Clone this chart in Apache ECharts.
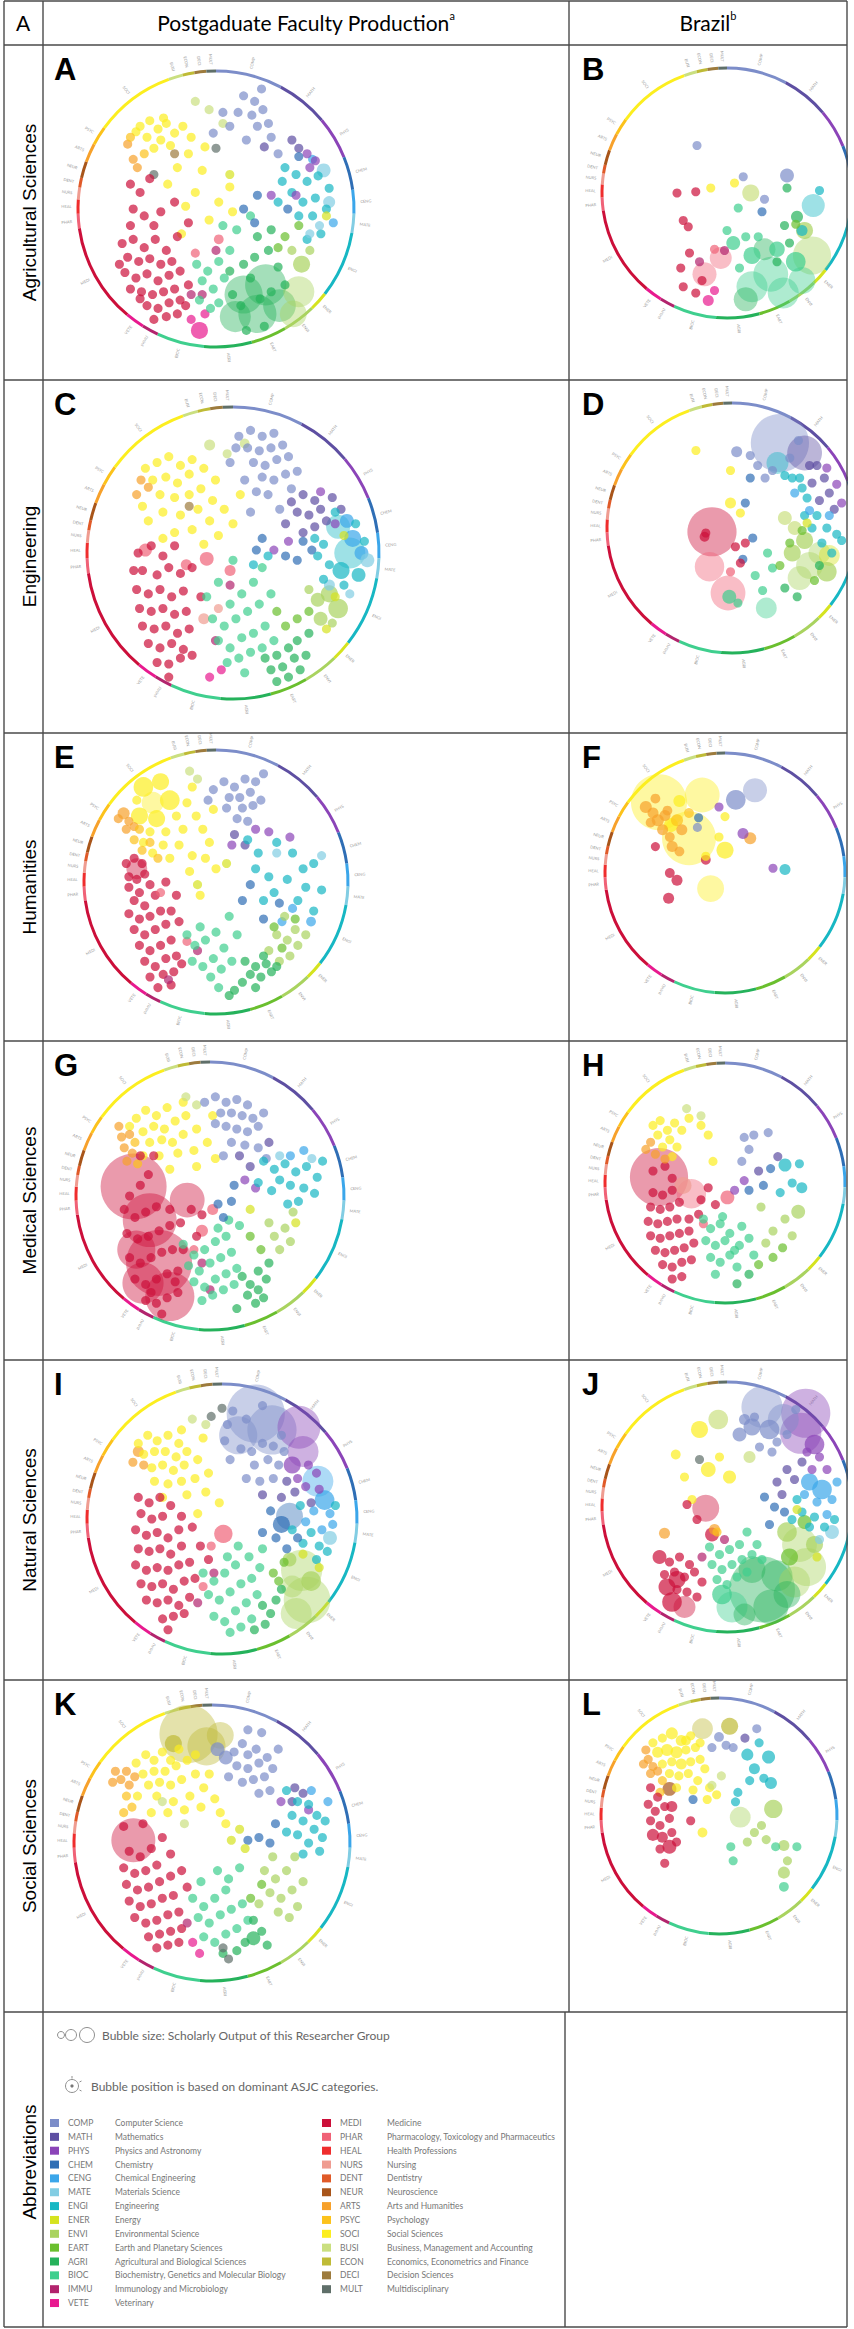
<!DOCTYPE html>
<html>
<head>
<meta charset="utf-8">
<title>Researcher group bubble maps</title>
<script src="https://cdn.jsdelivr.net/npm/echarts@6.0.0/dist/echarts.min.js"></script>
<style>
  html, body { margin: 0; padding: 0; background: #fff; }
  #chart { width: 854px; height: 2329px; }
</style>
</head>
<body>
<div id="chart"></div>
<script>
// ASJC categories, in the order they sit around the wheel (clockwise from 12 o'clock)
const categories = ["COMP", "MATH", "PHYS", "CHEM", "CENG", "MATE", "ENGI", "ENER", "ENVI", "EART",
  "AGRI", "BIOC", "IMMU", "VETE", "MEDI", "PHAR", "HEAL", "NURS", "DENT", "NEUR", "ARTS", "PSYC",
  "SOCI", "BUSI", "ECON", "DECI", "MULT"];
const categoryNames = ["Computer Science", "Mathematics", "Physics and Astronomy", "Chemistry",
  "Chemical Engineering", "Materials Science", "Engineering", "Energy", "Environmental Science",
  "Earth and Planetary Sciences", "Agricultural and Biological Sciences",
  "Biochemistry, Genetics and Molecular Biology", "Immunology and Microbiology", "Veterinary",
  "Medicine", "Pharmacology, Toxicology and Pharmaceutics", "Health Professions", "Nursing",
  "Dentistry", "Neuroscience", "Arts and Humanities", "Psychology", "Social Sciences",
  "Business, Management and Accounting", "Economics, Econometrics and Finance",
  "Decision Sciences", "Multidisciplinary"];
// share of the wheel rim taken by each category (degrees)
const ringSpan = [28, 22, 18, 14, 10, 8, 28, 8, 14, 15, 20, 20, 7, 8, 42, 6, 6, 5, 4, 7, 8, 8, 34, 6, 5, 5, 4];

const rowLabels = ["Agricultural Sciences", "Engineering", "Humanities", "Medical Sciences",
  "Natural Sciences", "Social Sciences"];
const panelLetters = ["A", "B", "C", "D", "E", "F", "G", "H", "I", "J", "K", "L"];

// bubbles: [x, y, output] with x/y in % of wheel radius; output defaults to 17
const bubblesA = [
  ["SOCI", [[-55,60],[-48,64],[-42,58],[-36,62],[-30,55],[-50,52],[-40,50],[-24,60],[-45,44],[-33,46],[-20,40],[-58,56],[-28,30],[-10,28],[-35,18],[-15,12],[2,5],[-5,-8],[10,16],[-22,2],[-38,66],[-18,52],[-8,45],[-25,-18],[12,-2]]],
  ["ARTS", [[-64,47],[-60,36],[-57,30]]],
  ["PSYC", [[-52,40],[-62,52]]],
  ["BUSI", [[-15,78],[-5,72],[5,62]]],
  ["MULT", [[-45,25],[0,44]]],
  ["DECI", [[-30,40]]],
  ["MEDI", [[-62,18],[-55,12],[-48,22],[-60,0],[-52,-5],[-40,-2],[-62,-12],[-30,5],[-45,-12],[-20,-10],[-68,-25],[-60,-22],[-52,-28],[-44,-22],[-36,-30],[-64,-35],[-56,-38],[-48,-36],[-40,-40],[-32,-38],[-66,-46],[-58,-50],[-50,-47],[-42,-52],[-34,-48],[-26,-45],[-62,-58],[-54,-60],[-46,-62],[-38,-60],[-30,-58],[-50,-70],[-42,-72],[-34,-68],[-26,-66],[-20,-55],[-36,-78],[-28,-76],[-22,-70],[-70,-40],[-55,-65],[-45,-80],[-28,-20]]],
  ["PHAR", [[2,-22,20],[-15,-32]]],
  ["IMMU", [[-10,-62],[0,-30],[-18,-62]]],
  ["VETE", [[-18,-80],[-12,-88,60],[-8,-76]]],
  ["BIOC", [[-14,-40],[-6,-45],[2,-38],[-10,-52],[-2,-58],[6,-50],[-12,-66],[-4,-72],[10,-30],[15,-15],[5,-12],[25,-5],[2,-68]]],
  ["AGRI", [[20,-62,300],[36,-55,350],[30,-76,300],[46,-70,220],[14,-78,200],[10,-45],[20,-40],[28,-35],[38,-30],[45,-42],[12,-62],[25,-50],[40,-60],[50,-55],[35,-85],[22,-88],[30,-20],[40,-15],[18,-70],[32,-65]]],
  ["ENVI", [[60,-60,200],[56,-76,150],[62,-40,60],[55,-30],[68,-30]]],
  ["EART", [[50,-20],[60,-12],[45,-28]]],
  ["ENGI", [[50,30],[58,25],[66,20],[74,24],[82,15],[55,12],[63,5],[72,8],[80,0],[48,20],[70,-5],[60,-5],[45,5],[76,-18],[66,-22]]],
  ["MATE", [[78,28,40],[82,5,30],[75,-12],[68,-18]]],
  ["CENG", [[85,-10],[70,36]]],
  ["COMP", [[20,82],[28,78],[26,68],[34,72],[30,60],[38,62],[40,52],[16,70],[10,60],[5,70],[45,40],[22,50],[33,87],[-2,55]]],
  ["MATH", [[35,45],[55,50],[60,44]]],
  ["PHYS", [[66,40],[72,35],[68,30],[58,10],[40,10]]],
  ["CHEM", [[52,0],[60,38],[30,10],[28,-10],[20,0]]],
  ["ENER", [[80,-5],[10,25]]]
];
const bubblesB = [
  ["COMP", [[-24,38],[48,14,40],[13,13],[30,-5]]],
  ["SOCI", [[6,8],[-13,4]]],
  ["BUSI", [[19,0,60]]],
  ["MEDI", [[-40,0],[-25,1],[-35,-22],[-31,-27],[-37,-60],[-30,-48],[-20,-70],[-35,-75],[-25,-80]]],
  ["ENGI", [[69,-10,110],[74,2],[60,-30,25]]],
  ["CHEM", [[28,-15]]],
  ["BIOC", [[9,-12],[0,-30],[5,-40,40],[15,-35],[20,-50,60],[40,-45,50],[55,-55,80],[35,-65,250],[20,-75,200],[45,-80,200],[60,-70,150],[10,-60],[25,-35]]],
  ["AGRI", [[48,4],[56,-19,30],[46,-26],[30,-45,100],[50,-40],[15,-85,120],[40,-55]]],
  ["ENVI", [[68,-50,300],[62,-30,60]]],
  ["EART", [[55,-25]]],
  ["PHAR", [[-18,-65,120],[-5,-52,100],[-10,-45]]],
  ["VETE", [[-15,-86,25],[-10,-78]]],
  ["IMMU", [[-2,-46],[-22,-55]]]
];
const bubblesC = [
  ["SOCI", [[-60,58],[-52,62],[-44,66],[-36,60],[-28,64],[-55,50],[-46,52],[-38,48],[-30,54],[-20,58],[-50,40],[-40,38],[-30,40],[-22,44],[-12,50],[-48,28],[-36,26],[-24,30],[-14,36],[-58,22],[-40,14],[-28,16],[-16,22],[-6,30],[-10,12],[0,20],[-20,6],[-48,10],[5,40],[-62,32]]],
  ["ARTS", [[-63,50],[-58,45],[-66,40]]],
  ["BUSI", [[-16,74,25],[8,75,20],[-4,68]]],
  ["DECI", [[-30,32]]],
  ["MEDI", [[-65,0],[-56,5],[-48,-2],[-40,5],[-62,-12],[-52,-15],[-44,-10],[-36,-14],[-66,-25],[-58,-28],[-50,-25],[-42,-30],[-34,-26],[-64,-38],[-56,-40],[-48,-38],[-40,-42],[-32,-40],[-62,-50],[-54,-52],[-46,-50],[-38,-55],[-30,-52],[-58,-62],[-50,-65],[-42,-62],[-34,-66],[-52,-75],[-44,-76],[-36,-72],[-28,-70],[-44,-85],[-28,-10],[-22,-30],[-68,-12]]],
  ["PHAR", [[-32,-8,25],[-18,-4,40],[-60,2,35],[-2,-12,25]]],
  ["NURS", [[-10,-38],[-20,-45,25]]],
  ["VETE", [[-16,-85],[-8,-80]]],
  ["IMMU", [[-2,-22],[-12,-60]]],
  ["BIOC", [[-18,-30],[-10,-20],[-2,-35],[6,-28],[14,-20],[-14,-45],[-6,-50],[2,-45],[10,-40],[18,-35],[-10,-60],[-2,-65],[6,-58],[14,-55],[22,-50],[-4,-75],[4,-72],[12,-68],[20,-65],[28,-60],[8,-82],[0,-5],[20,-10],[26,-28]]],
  ["AGRI", [[22,-72],[30,-70],[38,-65],[26,-80],[34,-78],[42,-72],[30,-88],[38,-85],[46,-80],[50,-70],[44,-60],[52,-55]]],
  ["EART", [[36,-50],[44,-45],[52,-40],[30,-40]]],
  ["ENVI", [[58,-32,40],[66,-28,60],[72,-38,80],[60,-45,40],[52,-25],[68,-48]]],
  ["ENER", [[76,12],[70,-30],[64,-52]]],
  ["COMP", [[4,80],[12,84],[20,80],[28,82],[10,72],[18,70],[26,72],[34,74],[14,62],[22,60],[30,64],[38,66],[20,52],[28,50],[36,54],[44,56],[8,50],[-2,62],[16,42],[24,40],[40,44],[32,30],[12,28],[2,72]]],
  ["MATH", [[40,35],[48,40],[56,36],[44,28],[52,26],[60,30],[64,22],[56,18],[48,14],[68,38],[74,30],[36,20]]],
  ["PHYS", [[60,42],[70,20],[38,8],[28,2]]],
  ["CHEM", [[48,8],[54,2],[44,-5],[36,-2],[20,10],[16,2]]],
  ["CENG", [[82,10,60],[88,0,40],[78,22,40]]],
  ["ENGI", [[72,18,120],[80,0,200],[74,-12,60],[86,-15,40],[62,6],[66,-8],[58,-2],[62,-18],[76,-22],[84,20],[90,8],[70,28],[56,10],[24,-2],[14,-8]]],
  ["MATE", [[92,-5,40],[66,-22,25],[80,-28]]]
];
const bubblesD = [
  ["COMP", [[40,68,700],[5,61,25],[16,58],[22,50],[28,40],[34,46],[48,56],[55,70]]],
  ["MATH", [[60,60,250],[70,50],[76,40],[66,36],[80,28],[72,22],[84,15],[64,50]]],
  ["PHYS", [[78,48],[86,35],[90,20]]],
  ["ENGI", [[38,52,100],[50,40],[58,32],[62,24],[70,10],[78,0],[86,-5],[66,0],[74,-12],[82,-20],[60,10],[90,-10],[56,40],[44,42]]],
  ["CENG", [[52,28],[64,14],[80,10]]],
  ["CHEM", [[16,40],[12,20],[18,-8],[10,-25]]],
  ["SOCI", [[-28,62],[0,46],[0,20,25],[8,12]]],
  ["MEDI", [[-15,-3,500],[-21,-7,20],[-20,-4],[8,-28],[4,-15],[12,-12]]],
  ["PHAR", [[-17,-31,180],[-2,-52,250],[0,-35]]],
  ["BIOC", [[-1,-55,40],[29,-64,90],[20,-38],[26,-50],[6,-60],[30,-20],[34,-32]]],
  ["ENVI", [[64,-30,150],[56,-40,120],[72,-20,100],[60,-10,60],[50,-20,60],[78,-35,80]]],
  ["EART", [[58,-2],[68,-42],[48,-12],[40,-30]]],
  ["BUSI", [[52,0,40],[44,8,40]]],
  ["ENER", [[80,-22,90],[62,4]]],
  ["AGRI", [[44,-48],[54,-55],[72,-30]]]
];
const bubblesE = [
  ["SOCI", [[-55,72,80],[-42,76,60],[-48,60,100],[-35,62,80],[-58,50,60],[-45,48,60],[-30,50],[-22,60],[-18,72],[-25,40],[-38,38],[-50,38],[-15,50],[-10,40],[-5,30],[-28,28],[-40,28],[-55,30],[-18,20],[-8,18],[0,10],[-60,62],[-20,8],[-35,18],[-48,22],[-12,-10],[-2,55]]],
  ["ARTS", [[-70,52,30],[-66,46],[-74,48],[-62,42],[-68,40]]],
  ["PSYC", [[-58,40],[-50,30],[-56,24],[-44,18],[-62,32]]],
  ["BUSI", [[-14,78],[-20,84]]],
  ["MEDI", [[-60,10,90],[-66,4],[-60,2],[-54,6],[-66,-4],[-58,-8],[-50,-2],[-68,14],[-62,18],[-56,14],[-62,-14],[-54,-18],[-46,-10],[-66,-24],[-58,-28],[-50,-26],[-42,-22],[-62,-36],[-54,-40],[-46,-36],[-38,-32],[-58,-48],[-50,-52],[-42,-48],[-34,-44],[-54,-60],[-46,-64],[-38,-58],[-30,-56],[-50,-72],[-40,-70],[-32,-68],[-26,-62],[-44,-80],[-34,-78],[-30,-10],[-38,0],[-34,-22],[-28,-30]]],
  ["PHAR", [[-42,-8],[-22,-45]]],
  ["IMMU", [[-36,-74],[-14,-52]]],
  ["COMP", [[-2,70],[6,76],[14,72],[22,78],[10,64],[18,64],[26,68],[30,76],[20,56],[28,58],[34,62],[8,56],[16,48],[24,46],[-6,62],[36,82]]],
  ["MATH", [[14,36],[22,28]]],
  ["PHYS", [[30,40],[40,38],[56,34],[12,28]]],
  ["ENGI", [[24,32],[32,22],[46,30],[58,22],[66,10],[74,14],[40,4],[54,2],[68,-4],[80,-6],[30,10],[62,-14],[74,-22],[44,-8],[36,-14]]],
  ["CENG", [[58,-20],[72,-30,20],[50,-30]]],
  ["MATE", [[46,22],[80,20]]],
  ["CHEM", [[26,-2],[36,-28],[48,-16],[20,-14]]],
  ["ENVI", [[52,-26],[60,-36],[54,-44],[46,-40],[62,-48],[40,-52],[56,-56],[68,-40],[48,-60]]],
  ["EART", [[44,-34],[50,-50],[60,-28]]],
  ["AGRI", [[22,-60],[30,-64],[38,-62],[26,-70],[34,-72],[42,-68],[30,-80],[20,-76],[10,-86],[14,-82],[36,-56],[46,-64]]],
  ["BIOC", [[-22,-40],[-16,-48],[-8,-44],[0,-38],[-18,-60],[-10,-64],[-2,-58],[6,-50],[-4,-72],[4,-66],[12,-60],[2,-80],[-12,-34],[10,-26],[16,-40]]],
  ["ENER", [[8,14],[-14,-2]]]
];
const bubblesF = [
  ["SOCI", [[-55,59,650],[-19,65,250],[-30,29,600],[-12,-13,150],[0,19,60],[0,47],[-5,30],[-16,14],[-45,40,40],[-38,60,30]]],
  ["ARTS", [[-66,55,30],[-60,50,25],[-56,44,30],[-62,42,20],[-52,36,25],[-46,30,20],[-44,22,25],[-38,18,20],[-58,62,20],[-48,52,20],[21,29,30],[-36,36,25],[-50,48,25]]],
  ["PSYC", [[-40,44,30],[-30,50,20]]],
  ["COMP", [[9,61,80],[25,69,120],[-23,38]]],
  ["PHYS", [[-5,55],[15,33,25],[40,4]]],
  ["ENGI", [[50,3,25]]],
  ["MEDI", [[-58,22],[-46,0,20],[-40,-6,25],[-47,-21,25],[-16,11,20]]],
  ["CHEM", [[-22,46]]]
];
const bubblesG = [
  ["SOCI", [[-55,58],[-48,64],[-40,60],[-32,66],[-50,48],[-42,52],[-34,50],[-26,56],[-18,60],[-45,40],[-36,42],[-28,40],[-20,46],[-10,50],[-38,30],[-24,32],[-12,34],[-2,40],[-50,30],[-30,20],[-10,22],[4,28],[-60,52],[2,60],[-20,70]]],
  ["ARTS", [[-68,52],[-66,44],[-60,46],[-64,36],[-58,32],[-62,26]]],
  ["PSYC", [[-56,40],[-54,24]]],
  ["BUSI", [[-18,74],[-10,68]]],
  ["COMP", [[-4,70],[4,74],[12,70],[20,72],[28,68],[8,62],[16,62],[24,60],[32,58],[12,52],[20,50],[28,48],[36,52],[4,54],[40,62],[16,40],[26,38],[36,36],[42,28],[10,30]]],
  ["MATH", [[22,30],[30,22],[44,40]]],
  ["PHYS", [[26,12],[34,6]]],
  ["MEDI", [[-57,7,900],[-17,-3,250],[-45,-18,600],[-38,-50,900],[-30,-75,500],[-55,-40,300],[-50,-65,350],[-60,0],[-52,8],[-46,16],[-64,-10],[-56,-16],[-48,-12],[-40,-8],[-62,-28],[-54,-32],[-46,-30],[-38,-26],[-30,-22],[-60,-46],[-52,-50],[-44,-46],[-36,-42],[-28,-40],[-56,-62],[-48,-66],[-40,-62],[-32,-58],[-24,-56],[-48,-78],[-40,-80],[-32,-76],[-24,-72],[-36,-88],[-44,-72],[-20,-40],[-22,-20],[-14,-10],[-6,-14],[-10,-30],[-30,-10],[-26,-64],[-52,30],[-42,30]]],
  ["PHAR", [[2,-10,25],[-6,-26,30],[-12,-40]]],
  ["IMMU", [[-6,-50],[0,-70]]],
  ["BIOC", [[-20,-36],[-12,-44],[-4,-40],[4,-34],[12,-30],[-16,-52],[-8,-56],[0,-50],[8,-46],[16,-42],[-12,-64],[-4,-68],[4,-62],[12,-58],[20,-54],[-6,-78],[2,-74],[10,-70],[18,-66],[6,-24],[14,-18],[22,-22]]],
  ["AGRI", [[24,-60],[30,-66],[36,-56],[28,-74],[36,-70],[42,-62],[34,-80],[40,-76],[20,-84],[44,-50]]],
  ["ENVI", [[48,-30],[56,-24],[52,-40],[60,-34],[44,-20],[62,-12]]],
  ["EART", [[38,-40],[30,-30]]],
  ["CHEM", [[10,-16],[16,-4],[6,-6],[18,8]]],
  ["ENGI", [[40,26],[48,20],[56,24],[64,18],[72,22],[80,14],[52,12],[60,8],[70,6],[78,2],[46,4],[66,-4],[58,-6],[36,10],[84,26]]],
  ["CENG", [[60,30],[70,34]]],
  ["MATE", [[76,28],[52,30]]],
  ["ENER", [[30,-10],[64,-20]]]
];
const bubblesH = [
  ["MEDI", [[-55,5,700],[-60,-8],[-52,-10],[-44,-6],[-62,-20],[-54,-22],[-46,-20],[-38,-16],[-64,-32],[-56,-34],[-48,-32],[-40,-30],[-62,-44],[-54,-46],[-46,-44],[-38,-42],[-30,-40],[-58,-56],[-50,-58],[-42,-56],[-34,-54],[-52,-68],[-44,-70],[-36,-66],[-28,-64],[-44,-80],[-36,-78],[-30,-30],[-26,-50],[-60,10],[-50,14],[-44,4],[-20,-14],[-22,-26],[-14,-4],[-8,-18]]],
  ["PHAR", [[-28,-9,180],[2,-12,40],[-18,-34]]],
  ["NURS", [[-35,-2,60]]],
  ["SOCI", [[-60,48],[-54,52],[-48,44],[-42,50],[-56,40],[-46,36],[-52,30],[-40,30],[-44,22],[-36,44],[-30,54],[-20,48],[-14,40],[-10,18]]],
  ["ARTS", [[-62,34],[-58,24],[-66,28],[-50,20]]],
  ["BUSI", [[-32,62],[-20,56]]],
  ["BIOC", [[-18,-30],[-12,-38],[-4,-34],[4,-42],[-16,-48],[-8,-52],[0,-48],[8,-56],[-12,-62],[-4,-66],[4,-60],[12,-52],[-8,-76],[14,-36],[20,-46],[24,-60],[10,-70],[-2,-28]]],
  ["COMP", [[16,38],[24,40],[20,28],[36,42],[14,18]]],
  ["MATH", [[28,10],[44,22]]],
  ["CHEM", [[38,12],[32,-2],[20,-6]]],
  ["ENGI", [[50,15,35],[62,16],[56,0],[46,-8],[64,-4,25]]],
  ["ENVI", [[61,-24,40],[50,-30],[40,-40],[56,-44],[30,-20],[34,-50]]],
  ["EART", [[48,-54],[28,-68],[40,-62]]],
  ["AGRI", [[20,-76],[10,-84]]],
  ["PHYS", [[16,2],[8,-6]]]
];
const bubblesI = [
  ["COMP", [[25,78,700],[37,66,500],[12,62,300],[18,74],[30,84],[8,80],[4,70],[14,52],[22,50],[30,56],[38,54],[24,40],[34,44],[42,40],[46,50],[6,44],[18,30],[28,28],[38,30],[44,62],[2,58]]],
  ["PHYS", [[57,68,380],[60,50,200],[52,40,60],[64,40],[70,34],[56,30],[72,22],[62,24]]],
  ["MATH", [[48,28],[54,20],[44,16],[66,12],[30,18]]],
  ["CENG", [[71,28,200],[76,14,80],[80,4],[68,6],[82,-4],[74,-8],[62,-2]]],
  ["ENGI", [[58,10],[66,-10],[72,-20],[60,-18],[52,-8],[78,-24],[84,10],[70,-30]]],
  ["CHEM", [[50,2,150],[44,-4,60],[36,6],[40,-14],[30,-10],[56,-14],[48,-22]]],
  ["SOCI", [[-62,56],[-55,62],[-48,58],[-40,62],[-32,56],[-58,48],[-50,50],[-42,50],[-34,46],[-26,50],[-52,38],[-44,40],[-36,36],[-28,40],[-18,44],[-50,28],[-40,26],[-30,28],[-20,30],[-10,34],[-44,16],[-26,18],[-12,20],[-2,12],[-18,4],[-30,66],[-14,60]]],
  ["ARTS", [[-62,50,25],[-66,42],[-58,40]]],
  ["BUSI", [[-22,74],[-12,70]]],
  ["MULT", [[-8,76],[0,82]]],
  ["MEDI", [[-62,16],[-54,12],[-46,16],[-38,10],[-60,4],[-52,0],[-44,2],[-30,2],[-64,-8],[-56,-12],[-48,-10],[-40,-14],[-32,-8],[-62,-22],[-54,-24],[-46,-22],[-38,-26],[-30,-20],[-64,-34],[-56,-38],[-48,-36],[-40,-38],[-32,-34],[-24,-32],[-60,-48],[-52,-50],[-44,-48],[-36,-52],[-28,-46],[-56,-60],[-48,-62],[-40,-60],[-32,-64],[-24,-58],[-44,-74],[-36,-72],[-28,-70],[-40,-82],[-20,-44],[-16,-20],[-22,-6],[-10,-30]]],
  ["PHAR", [[1,-11,70],[-8,-20],[-14,-50]]],
  ["IMMU", [[-18,-62],[-6,-40]]],
  ["BIOC", [[-14,-40],[-6,-46],[2,-40],[10,-34],[-10,-56],[-2,-60],[6,-54],[14,-48],[22,-44],[-6,-72],[2,-76],[10,-68],[18,-62],[26,-56],[6,-84],[14,-80],[22,-74],[12,-20],[20,-28],[28,-36],[4,-28],[30,-22]]],
  ["AGRI", [[30,-64],[36,-70],[32,-78],[40,-60],[24,-82],[44,-52]]],
  ["EART", [[38,-40],[46,-32],[42,-46]]],
  ["ENVI", [[59,-38,350],[63,-60,450],[55,-70,200],[52,-50,100],[66,-46,80],[50,-30,40]]],
  ["ENER", [[72,-36],[60,-26]]],
  ["MATE", [[80,-14,40]]]
];
const bubblesJ = [
  ["COMP", [[28,80,350],[45,70,200],[34,62,80],[20,64,60],[10,58,40],[40,52],[48,58],[26,48],[36,44],[22,72],[55,78],[14,70,25]]],
  ["PHYS", [[63,75,500],[59,59,350],[70,50,80],[74,40],[64,44],[80,30],[68,30]]],
  ["MATH", [[48,30],[40,20],[54,22],[44,10],[60,36]]],
  ["CENG", [[66,20,60],[76,14,80],[84,6],[72,4],[80,-6],[62,10],[88,20]]],
  ["ENGI", [[70,-8],[60,-4],[78,-16],[66,-16],[86,-10],[56,6],[52,-10]]],
  ["MATE", [[84,-20,40],[74,-26]]],
  ["CHEM", [[38,0],[30,8],[46,-4],[34,-14]]],
  ["SOCI", [[-22,62,60],[-41,42,20],[-15,30,45],[2,24,35],[-34,24],[-28,6],[-6,40]]],
  ["BUSI", [[-7,70,80],[18,40,30]]],
  ["MULT", [[-22,38]]],
  ["MEDI", [[-17,-1,150],[-32,2],[-24,-10],[-12,-22,40],[-46,-44],[-38,-40],[-30,-46],[-50,-54],[-42,-52],[-34,-56],[-26,-52],[-48,-64,60],[-40,-66],[-32,-68],[-44,-76,80],[-34,-80,100],[-24,-72],[-54,-40,40],[-20,-60],[-40,-58,60]]],
  ["ARTS", [[-50,-21,25],[-10,-18,25]]],
  ["PSYC", [[-8,-20]]],
  ["BIOC", [[-14,-32],[-6,-38],[2,-34],[10,-30],[-12,-46],[-4,-50],[4,-46],[12,-42],[20,-38],[-8,-58],[0,-62],[8,-56],[16,-52],[4,-80,200],[-4,-70,80],[24,-30],[16,-20],[28,-42]]],
  ["AGRI", [[28,-66,900],[20,-50,150],[40,-55,200],[35,-80,250],[14,-86,100],[48,-70,150]]],
  ["ENVI", [[58,-30,250],[64,-48,300],[54,-60,200],[48,-20,80],[70,-30,60]]],
  ["EART", [[50,-40,60],[62,-12,40]]],
  ["ENER", [[56,-2],[72,-40]]],
  ["IMMU", [[-20,-40],[-2,-26]]]
];
const bubblesK = [
  ["ECON", [[-17,79,700],[-4,70,300],[6,78,150],[-28,72,60]]],
  ["COMP", [[4,68,40],[10,62,40],[16,66],[22,72],[26,64],[32,68],[18,56],[26,54],[34,58],[40,62],[22,44],[30,46],[38,48],[44,54],[12,48],[42,38],[34,36],[48,68],[26,82],[36,80]]],
  ["MATH", [[60,40],[66,36],[58,30]]],
  ["PHYS", [[50,30],[70,24]]],
  ["SOCI", [[-55,58],[-48,64],[-42,60],[-36,66],[-30,60],[-50,50],[-42,52],[-34,52],[-26,56],[-18,60],[-46,42],[-38,44],[-30,42],[-22,46],[-12,50],[-54,34],[-40,34],[-28,30],[-16,34],[-6,40],[-44,22],[-32,22],[-20,24],[-8,26],[2,32],[-24,68],[-12,64],[-2,50],[6,22],[10,14]]],
  ["ARTS", [[-70,52],[-66,46],[-62,52],[-60,42],[-72,44],[-56,48]]],
  ["PSYC", [[-62,34],[-58,26],[-64,22]]],
  ["BUSI", [[-36,30],[-20,14]]],
  ["MEDI", [[-57,2,400],[-64,12],[-60,-6],[-52,-10],[-44,-4],[-64,-18],[-56,-22],[-48,-20],[-40,-16],[-62,-30],[-54,-34],[-46,-32],[-38,-28],[-30,-24],[-60,-42],[-52,-46],[-44,-44],[-36,-40],[-28,-38],[-56,-54],[-48,-58],[-40,-56],[-32,-52],[-24,-50],[-46,-68],[-38,-66],[-30,-64],[-22,-62],[-40,-76],[-32,-74],[-24,-72],[-36,4],[-30,-8],[-22,-20],[-18,-32],[-50,14]]],
  ["VETE", [[-9,-80],[-14,-72]]],
  ["IMMU", [[-18,-58]]],
  ["BIOC", [[-14,-40],[-6,-46],[2,-40],[10,-34],[-10,-54],[-2,-58],[6,-52],[14,-48],[22,-44],[-6,-68],[2,-72],[10,-66],[18,-62],[26,-56],[4,-20],[12,-26],[20,-18],[-8,-28]]],
  ["AGRI", [[30,-69,40],[24,-72],[36,-64],[30,-56],[40,-74],[18,-78],[8,-80]]],
  ["MULT", [[8,-76],[12,-84]]],
  ["ENVI", [[38,-20],[46,-26],[54,-20],[42,-36],[50,-40],[58,-34],[62,-46],[48,-50],[56,-54],[34,-44],[66,-28],[44,-10],[60,-10]]],
  ["EART", [[36,-30],[28,-40]]],
  ["ENGI", [[54,38],[62,30],[70,28],[76,20],[58,20],[66,16],[74,10],[80,4],[62,6],[70,0],[78,-6],[54,8],[66,-8],[82,16]]],
  ["CENG", [[72,38],[84,30]]],
  ["CHEM", [[34,4],[42,0],[26,2],[46,14]]],
  ["ENER", [[20,10],[24,-4],[14,2]]]
];
const bubblesL = [
  ["ECON", [[-14,74,90],[9,76,60]]],
  ["COMP", [[0,67,20],[6,60],[12,58],[32,74],[-6,58]]],
  ["SOCI", [[-56,62],[-48,66],[-40,70,30],[-32,64,25],[-24,68],[-52,54,25],[-44,56,30],[-36,54,30],[-28,56],[-20,58],[-48,44],[-40,46],[-32,44,25],[-24,46],[-16,48],[-42,36],[-34,34],[-26,36],[-18,30],[-12,40],[-36,24],[-22,22],[-8,24],[-10,14],[-14,-14,20],[-2,18],[-28,64,20],[-16,62]]],
  ["ARTS", [[-62,56],[-60,48],[-56,42],[-58,36],[-52,38],[-64,44]]],
  ["NEUR", [[-42,23,40]]],
  ["PSYC", [[-48,30],[-50,20]]],
  ["BUSI", [[-6,26],[2,34]]],
  ["MEDI", [[-58,24],[-52,16],[-60,10],[-54,4],[-46,8],[-58,-4],[-50,-8],[-42,-2],[-56,-16,30],[-48,-18,25],[-40,-14],[-50,-28],[-42,-26,40],[-46,-40],[-36,-22],[-24,-4],[-40,8,25]]],
  ["ENGI", [[24,52,30],[30,40,25],[42,50,35],[38,32],[26,30],[44,28,30],[34,62],[16,20],[14,12]]],
  ["MATH", [[22,66]]],
  ["ENVI", [[18,-1,90],[46,6,70],[36,-8],[30,-14],[40,-20],[24,-22],[55,-48,30],[55,-25,25],[58,-38]]],
  ["BIOC", [[10,-26],[12,-38],[55,-60,20],[66,-26],[48,-26]]],
  ["CHEM", [[-22,14]]]
];
const panelBubbles = [bubblesA, bubblesB, bubblesC, bubblesD, bubblesE, bubblesF,
  bubblesG, bubblesH, bubblesI, bubblesJ, bubblesK, bubblesL];

// ---- styles & layout (kept apart from the data) ----
const categoryColors = ["#7c8dc9", "#5e4fa2", "#8b44b8", "#2f6eb5", "#3ba6ea", "#82cde3", "#17b7c3",
  "#d5e31f", "#a9d35f", "#6abf2e", "#25b25b", "#3fcf8e", "#b2246d", "#e8198f", "#cc0f3a", "#f06277",
  "#ef2d2d", "#ef9c91", "#e05a28", "#a8551a", "#f7a12b", "#fcc21b", "#fcee1f", "#cadf80", "#bfbb36",
  "#9d7b3d", "#5f6f69"];
const colorOf = {};
categories.forEach((c, i) => { colorOf[c] = categoryColors[i]; });

// wheel centre x, centre y, radius (px) for each panel
const panelLayout = [
  [216, 209, 138], [727, 193, 125],
  [233, 553, 146], [732, 528, 125],
  [216, 882, 132], [725, 873, 120],
  [210, 1196, 134], [725, 1183, 120],
  [222, 1519, 135], [727, 1507, 125],
  [212, 1843, 138], [719, 1816, 118]
];
const rowLines = [45, 380, 733, 1041, 1360, 1680, 2012];
const tableLeft = 4, tableRight = 847, tableBottom = 2327;
const colLeft = 43, colMid = 569, colMidLegend = 565;
const lineColor = "#4a4a4a";
const rimLabelGap = 5, rimLabelLen = 11;
const defaultOutput = 17;
const bubbleSize = (v) => 2.2 * Math.sqrt(v);

const chart = echarts.init(document.getElementById("chart"), null, { renderer: "svg" });

const grids = [], xAxes = [], yAxes = [], series = [];

// mid angle of every rim segment, clockwise from 12 o'clock
const ringMid = [];
ringSpan.reduce((acc, s) => { ringMid.push(acc + s / 2); return acc + s; }, 0);

panelBubbles.forEach((groups, i) => {
  const [cx, cy, r] = panelLayout[i];
  grids.push({ left: cx - r, top: cy - r, width: 2 * r, height: 2 * r });
  xAxes.push({ gridIndex: i, type: "value", min: -100, max: 100, show: false });
  yAxes.push({ gridIndex: i, type: "value", min: -100, max: 100, show: false });

  const items = [];
  groups.forEach(([code, pts]) => {
    pts.forEach((p) => {
      const out = p[2] || defaultOutput;
      // large groups are drawn paler so the small ones stay readable on top
      const alpha = bubbleSize(out) > 20 ? 0.42 : 0.7;
      items.push({ value: [p[0], p[1], out], itemStyle: { color: colorOf[code], opacity: alpha } });
    });
  });
  // big bubbles underneath, small ones on top
  items.sort((a, b) => b.value[2] - a.value[2]);

  series.push({
    type: "scatter",
    xAxisIndex: i,
    yAxisIndex: i,
    data: items,
    symbolSize: (v) => bubbleSize(v[2]),
    silent: true,
    clip: false,
    z: 3,
  });

  // rim labels that would fall past the table's right border are left out
  const ringData = categories.map((c, k) => {
    const a = ringMid[k] * Math.PI / 180;
    const reach = cx + (r + 1.5 + rimLabelGap + rimLabelLen) * Math.sin(a);
    const item = { name: c, value: ringSpan[k], itemStyle: { color: categoryColors[k] } };
    if (reach > tableRight - 2) item.label = { show: false };
    return item;
  });

  series.push({
    type: "pie",
    center: [cx, cy],
    radius: [r - 1.5, r + 1.5],
    startAngle: 90,
    clockwise: true,
    avoidLabelOverlap: false,
    silent: true,
    data: ringData,
    label: {
      show: true,
      position: "outside",
      rotate: "radial",
      formatter: "{b}",
      fontSize: 4,
      fontFamily: "Lato",
      color: "#9a9a9a",
      distanceToLabelLine: 0,
    },
    labelLine: { show: false, length: rimLabelGap, length2: 0 },
    z: 2,
  });
});

// ---- table, headings, legend ----
const g = [];
function line(x1, y1, x2, y2, z) {
  g.push({ type: "line", silent: true, z: z || 10,
    shape: { x1, y1, x2, y2 }, style: { stroke: lineColor, lineWidth: 1.4 } });
}
function text(x, y, str, opts, extra) {
  const st = Object.assign({ text: str, fill: "#000", fontFamily: "Liberation Sans", fontSize: 19,
    align: "left", verticalAlign: "middle" }, opts);
  st.textAlign = st.align;
  st.textVerticalAlign = st.verticalAlign;
  g.push(Object.assign({ type: "text", x, y, silent: true, z: 10, style: st }, extra || {}));
}

// white strip clipping the wheels that run past the right border
g.push({ type: "rect", silent: true, z: 50, shape: { x: tableRight + 1, y: 0, width: 20, height: 2329 },
  style: { fill: "#fff" } });

line(tableLeft, 1, tableRight, 1, 60);
line(tableLeft, tableBottom, tableRight, tableBottom, 60);
line(tableLeft, 1, tableLeft, tableBottom, 60);
line(tableRight, 1, tableRight, tableBottom, 60);
rowLines.forEach((y) => line(tableLeft, y, tableRight, y, 60));
line(colLeft, 1, colLeft, tableBottom, 60);
line(colMid, 1, colMid, rowLines[6], 60);
line(colMidLegend, rowLines[6], colMidLegend, tableBottom, 60);

// header row
const headFont = { fontFamily: "Lato", fontSize: 21, align: "center" };
const supRich = {
  m: { fontFamily: "Lato", fontSize: 21, lineHeight: 24 },
  s: { fontFamily: "Lato", fontSize: 11, lineHeight: 24, verticalAlign: "top" },
};
text(23, 22, "A", headFont);
text(306, 22, "{m|Postgaduate Faculty Production}{s|a}", Object.assign({}, headFont, { rich: supRich }));
text(708, 22, "{m|Brazil}{s|b}", Object.assign({}, headFont, { rich: supRich }));

// row labels and panel letters
rowLabels.forEach((label, k) => {
  const top = rowLines[k], bottom = rowLines[k + 1];
  text(29, (top + bottom) / 2, label, { align: "center" }, { rotation: Math.PI / 2 });
  const letterStyle = { fontFamily: "Liberation Sans", fontWeight: "bold", fontSize: 31 };
  text(54, top + 24, panelLetters[2 * k], letterStyle);
  text(582, top + 24, panelLetters[2 * k + 1], letterStyle);
});
text(29, 2162, "Abbreviations", { align: "center" }, { rotation: Math.PI / 2 });

// legend: bubble size / position notes
const iconStroke = { fill: "none", stroke: "#8f8f8f", lineWidth: 1 };
[[61, 3.5], [71, 5.5], [87, 7.5]].forEach(([x, rr]) => {
  g.push({ type: "circle", silent: true, z: 10, shape: { cx: x, cy: 2035, r: rr }, style: iconStroke });
});
text(102, 2035, "Bubble size: Scholarly Output of this Researcher Group",
  { fontFamily: "Lato", fontSize: 12, fill: "#666" });
g.push({ type: "circle", silent: true, z: 10, shape: { cx: 72, cy: 2086, r: 6.5 }, style: iconStroke });
g.push({ type: "circle", silent: true, z: 10, shape: { cx: 72, cy: 2086, r: 1.6 }, style: { fill: "#777" } });
[[72, 2076, 72, 2078.5], [79.5, 2082, 81.5, 2081], [79.5, 2090, 81.5, 2091]].forEach(([a, b, c, d]) => {
  g.push({ type: "line", silent: true, z: 10, shape: { x1: a, y1: b, x2: c, y2: d }, style: iconStroke });
});
text(91, 2086, "Bubble position is based on dominant ASJC categories.",
  { fontFamily: "Lato", fontSize: 12, fill: "#666" });

// legend: abbreviation list in two columns
const legendTop = 2123, legendStep = 13.85;
categories.forEach((code, i) => {
  const col = i < 14 ? 0 : 1;
  const row = col ? i - 14 : i;
  const y = legendTop + row * legendStep;
  const x0 = col ? 322 : 50;
  g.push({ type: "rect", silent: true, z: 10, shape: { x: x0, y: y - 4, width: 9, height: 8 },
    style: { fill: categoryColors[i] } });
  text(x0 + 18, y, code, { fontFamily: "Lato", fontSize: 8.5, fill: "#777" });
  text(x0 + 65, y, categoryNames[i], { fontFamily: "Lato", fontSize: 8.5, fill: "#777" });
});

chart.setOption({
  animation: false,
  grid: grids,
  xAxis: xAxes,
  yAxis: yAxes,
  series: series,
  graphic: { elements: g },
});
</script>
</body>
</html>
